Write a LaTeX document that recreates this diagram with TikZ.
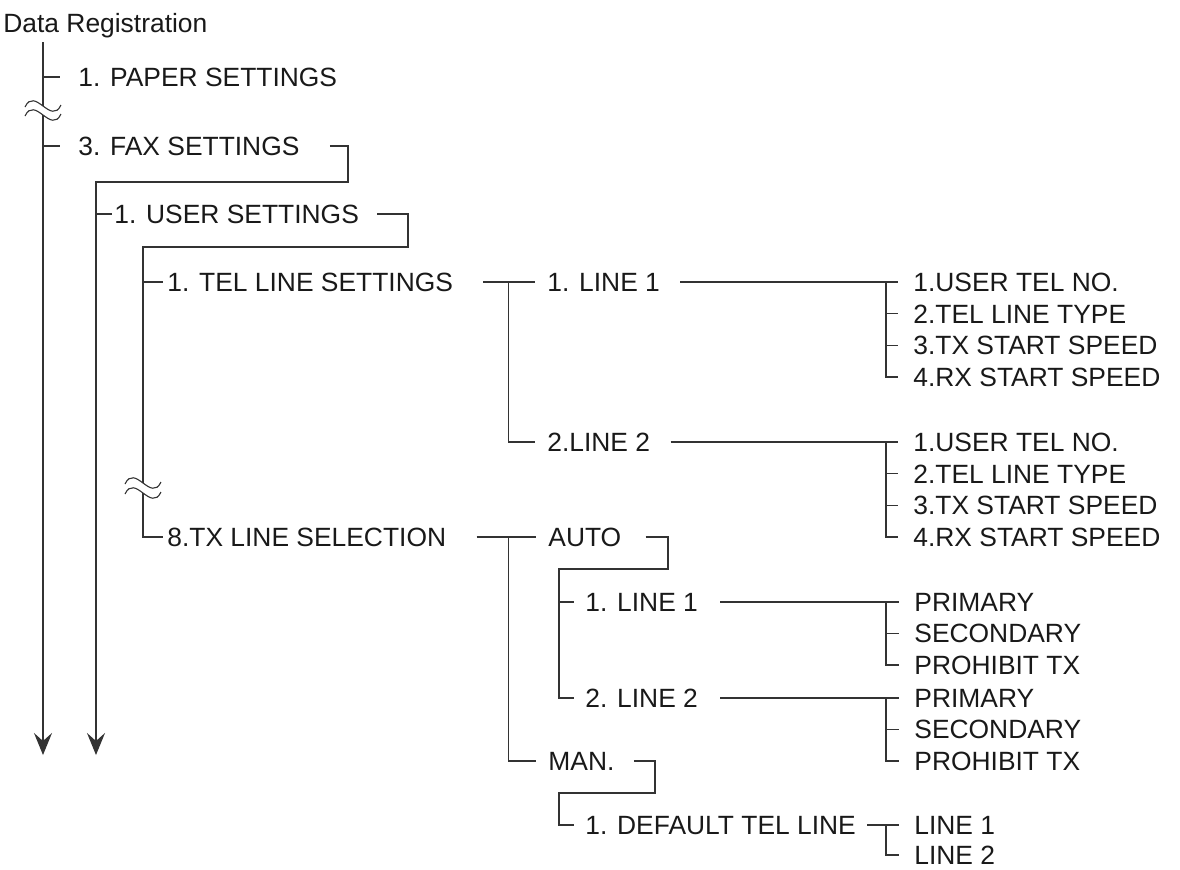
\documentclass[tikz,border=0pt]{standalone}
\usepackage{fontspec}
\setmainfont{Liberation Sans}
\usetikzlibrary{arrows.meta}
\tikzset{
  entry/.style={anchor=west, inner sep=0pt, text height=9.45pt, text depth=0pt,
    font=\fontsize{13.2pt}{15pt}\selectfont, text=black!90},
  wire/.style={draw=black!80, line width=0.55pt},
  trunk/.style={wire, -{Stealth[length=11pt, width=9pt, inset=4pt]}},
  wavy/.pic={\draw[wire] (-18,1) .. controls (-8,-20) and (8,20) .. (18,-1);}
}
\begin{document}
\begin{tikzpicture}[x=0.5pt, y=-0.5pt]
  \useasboundingbox (0,0) rectangle (1180,869);
  \coordinate (rail0) at (43,0);
  \coordinate (rail1) at (96,0);
  \coordinate (rail2) at (143,0);
  \coordinate (rail3) at (508.5,0);
  \coordinate (rail4) at (886,0);
  \coordinate (rail5) at (559,0);

  \node[entry] (datareg) at (3,23) {Data Registration};
  \node[entry] (paper) at (78,77) {1. PAPER SETTINGS};
  \node[entry] (fax) at (78,146) {3. FAX SETTINGS};
  \node[entry] (user) at (114,214) {1. USER SETTINGS};
  \node[entry] (telline) at (167,282) {1. TEL LINE SETTINGS};
  \node[entry] (txsel) at (167,537) {8.TX LINE SELECTION};
  \node[entry] (lineA) at (547,282) {1. LINE 1};
  \node[entry] (lineB) at (547,442) {2.LINE 2};
  \node[entry] (auto) at (548,537) {AUTO};
  \node[entry] (man) at (548,761) {MAN.};
  \node[entry] (autoA) at (585,602) {1. LINE 1};
  \node[entry] (autoB) at (585,698) {2. LINE 2};
  \node[entry] (deflt) at (585,825) {1. DEFAULT TEL LINE};
  \foreach \txt [count=\i] in {1.USER TEL NO., 2.TEL LINE TYPE, 3.TX START SPEED, 4.RX START SPEED} {
    \node[entry] (a\i) at (913,{282+31.67*(\i-1)}) {\txt};
    \node[entry] (b\i) at (913,{442+31.67*(\i-1)}) {\txt};
  }
  \foreach \txt [count=\i] in {PRIMARY, SECONDARY, PROHIBIT TX} {
    \node[entry] (p\i) at (914,{602+31.5*(\i-1)}) {\txt};
    \node[entry] (q\i) at (914,{698+31.5*(\i-1)}) {\txt};
  }
  \node[entry] (dl1) at (914,825) {LINE 1};
  \node[entry] (dl2) at (914,855) {LINE 2};

  \draw[wire] (43,42) -- (43,106);
  \pic at (43,106) {wavy};
  \pic at (43,115) {wavy};
  \draw[trunk] (43,115) -- (43,755);
  \draw[wire] (rail0 |- paper.west) -- ([xshift=-9pt]paper.west);
  \draw[wire] (rail0 |- fax.west) -- ([xshift=-9pt]fax.west);
  \draw[trunk] ([xshift=15pt]fax.east) -| (348,182) -- (96,182) -- (96,755);
  \draw[wire] (rail1 |- user.west) -- ([xshift=-1pt]user.west);
  \draw[wire] ([xshift=9pt]user.east) -| (408,247) -- (143,247) -- (143,483);
  \pic at (143,483) {wavy};
  \pic at (143,493) {wavy};
  \draw[wire] (143,493) |- ([xshift=-2pt]txsel.west);
  \draw[wire] (rail2 |- telline.west) -- ([xshift=-2pt]telline.west);

  \draw[wire] ([xshift=15pt]telline.east) -- ([xshift=-6pt]lineA.west);
  \draw[wire] (rail3 |- lineA.west) |- ([xshift=-6pt]lineB.west);
  \draw[wire] ([xshift=10pt]lineA.east) -- ([xshift=-7.5pt]a1.west);
  \draw[wire] ([xshift=10pt]lineB.east) -- ([xshift=-7.5pt]b1.west);
  \foreach \grp in {a,b} {
    \draw[wire] (rail4 |- \grp1.west) |- ([xshift=-7.5pt]\grp4.west);
    \foreach \i in {2,3} \draw[wire] (rail4 |- \grp\i.west) -- ([xshift=-7.5pt]\grp\i.west);
  }

  \draw[wire] ([xshift=15pt]txsel.east) -- ([xshift=-6pt]auto.west);
  \draw[wire] (rail3 |- auto.west) |- ([xshift=-6pt]man.west);
  \draw[wire] ([xshift=12pt]auto.east) -| (668,569) -- (559,569) |- ([xshift=-5.5pt]autoB.west);
  \draw[wire] (rail5 |- autoA.west) -- ([xshift=-5.5pt]autoA.west);
  \draw[wire] ([xshift=11pt]autoA.east) -- ([xshift=-7.5pt]p1.west);
  \draw[wire] ([xshift=11pt]autoB.east) -- ([xshift=-7.5pt]q1.west);
  \foreach \grp in {p,q} {
    \draw[wire] (rail4 |- \grp1.west) |- ([xshift=-7.5pt]\grp3.west);
    \draw[wire] (rail4 |- \grp2.west) -- ([xshift=-7.5pt]\grp2.west);
  }
  \draw[wire] ([xshift=9.5pt]man.east) -| (655,793) -- (559,793) |- ([xshift=-5.5pt]deflt.west);
  \draw[wire] ([xshift=5.5pt]deflt.east) -- ([xshift=-7.5pt]dl1.west);
  \draw[wire] (rail4 |- dl1.west) |- ([xshift=-7.5pt]dl2.west);
\end{tikzpicture}
\end{document}
